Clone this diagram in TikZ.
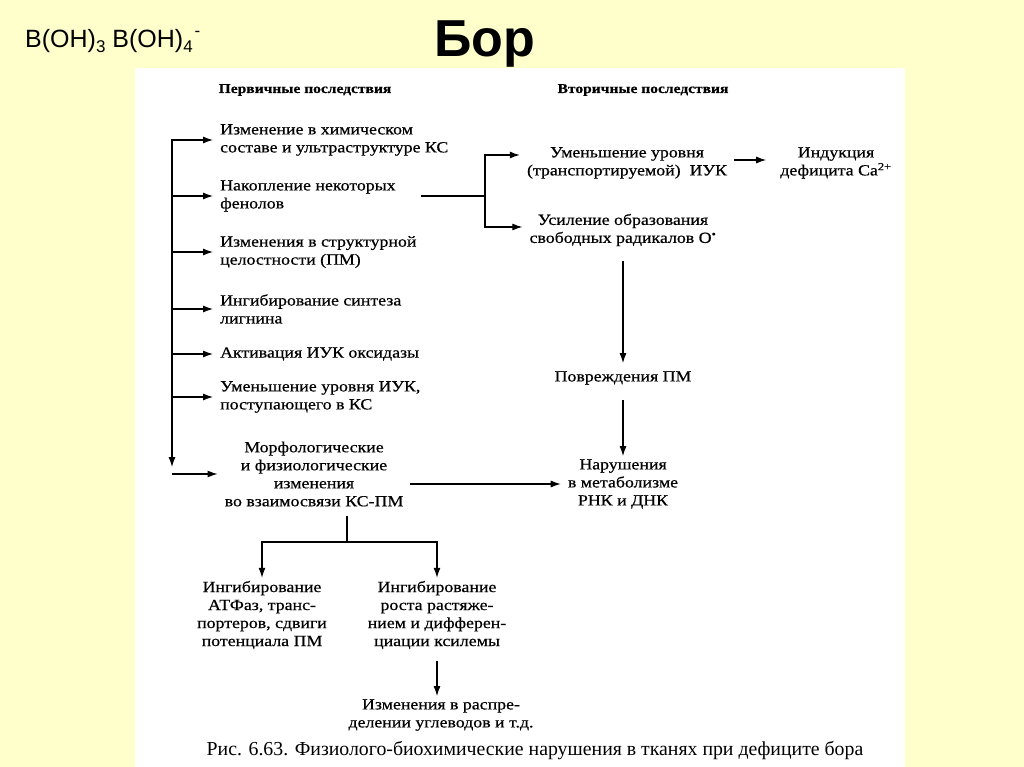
\documentclass[tikz,border=0pt]{standalone}
\usepackage{fontspec}
\setmainfont{Liberation Serif}[FakeStretch=1.15, FakeBold=0.5]
\newfontfamily\slidefont{Liberation Sans}
\newfontfamily\capfont{Liberation Serif}
\usetikzlibrary{arrows.meta, positioning, calc}
\definecolor{slideyellow}{RGB}{255,255,204}

\begin{document}
\begin{tikzpicture}[
  x=1pt, y=-1pt,
  item/.style={anchor=west, align=left, inner xsep=7pt, inner ysep=3pt, font=\fontsize{15.5}{18}\selectfont},
  cnode/.style={align=center, inner xsep=7pt, inner ysep=3pt, font=\fontsize{15.5}{18}\selectfont},
  head/.style={font=\fontsize{13.5}{15}\selectfont\bfseries},
  arr/.style={-{Latex[length=10pt,width=7pt]}, line width=1.1pt},
  ln/.style={line width=1.1pt}
]
  % slide background
  \fill[slideyellow] (0,0) rectangle (1024,767);
  \fill[white] (135,68) rectangle (905,767);
  \useasboundingbox (0,0) rectangle (1024,767);

  \node[anchor=base, font=\slidefont\fontsize{52}{52}\selectfont\bfseries] (title) at (485,57) {Бор};
  \node[anchor=base west, inner sep=0pt, font=\slidefont\fontsize{25}{25}\selectfont] (formula) at (25,48)
    {B(OH)\raisebox{-0.35ex}{\fontsize{17}{17}\selectfont 3} B(OH)\raisebox{-0.35ex}{\fontsize{17}{17}\selectfont 4}\kern2pt\raisebox{0.9ex}{\fontsize{17}{17}\selectfont -}};

  \node[head] (prim) at (305,90) {Первичные последствия};
  \node[head] (sec) at (643,90) {Вторичные последствия};

  % primary consequences
  \node[item] (i1) at (213,140) {Изменение в химическом\\составе и ультраструктуре КС};
  \node[item] (i2) at (213,196) {Накопление некоторых\\фенолов};
  \node[item] (i3) at (213,252) {Изменения в структурной\\целостности (ПМ)};
  \node[item] (i4) at (213,309) {Ингибирование синтеза\\лигнина};
  \node[item] (i5) at (213,354) {Активация ИУК оксидазы};
  \node[item] (i6) at (213,397) {Уменьшение уровня ИУК,\\поступающего в КС};
  \node[cnode] (i7) at (314,474) {Морфологические\\и физиологические\\изменения\\во взаимосвязи КС-ПМ};

  \coordinate (top) at (172,139);
  \coordinate (bot) at (172,467);
  \draw[arr] (top) -- (bot);
  \foreach \i in {1,...,7}
    \draw[arr] (top |- i\i.west) -- (i\i.west);

  % secondary consequences
  \node[cnode] (umen) at (627,163) {Уменьшение уровня\\(транспортируемой)~~ИУК};
  \node[cnode] (ind) at (836,163) {Индукция\\дефицита Ca\textsuperscript{2+}};
  \node[cnode] (usil) at (623,230) {Усиление образования\\свободных радикалов O\textsuperscript{\textbullet}};
  \node[cnode] (pov) at (623,378) {Повреждения ПМ};
  \node[cnode] (nar) at (623,484) {Нарушения\\в метаболизме\\РНК и ДНК};

  \coordinate (br) at (485,196);
  \draw[ln, shorten <=18pt] (i2.east) -- (br);
  \draw[arr] (br) |- ([yshift=8pt]umen.west);
  \draw[arr] (br) |- ([yshift=3pt]usil.west);
  \draw[arr, shorten >=7pt] ([yshift=3pt]umen.east) -- ([yshift=3pt]ind.west);
  \draw[arr, shorten <=12pt, shorten >=5pt] (usil.south) -- (pov.north);
  \draw[arr, shorten <=12pt] (pov.south) -- (nar.north);
  \draw[arr] (i7.east |- nar.west) -- (nar.west);

  % lower branch
  \node[cnode] (atf) at (262,615) {Ингибирование\\АТФаз, транс-\\портеров, сдвиги\\потенциала ПМ};
  \node[cnode] (ksil) at (437,615) {Ингибирование\\роста растяже-\\нием и дифферен-\\циации ксилемы};
  \node[cnode] (ugl) at (441,715) {Изменения в распре-\\делении углеводов и т.д.};

  \coordinate (fork) at (347,542);
  \draw[ln, shorten <=6pt] (i7.south -| fork) -- (fork);
  \draw[arr] (fork) -| (atf.north);
  \draw[arr] (fork) -| (ksil.north);
  \draw[arr, shorten <=9pt] (ksil.south) -- (ksil.south |- ugl.north);

  \node[anchor=base, font=\capfont\fontsize{19.8}{22}\selectfont] (cap) at (535,755)
    {Рис. 6.63. Физиолого-биохимические нарушения в тканях при дефиците бора};
\end{tikzpicture}
\end{document}
